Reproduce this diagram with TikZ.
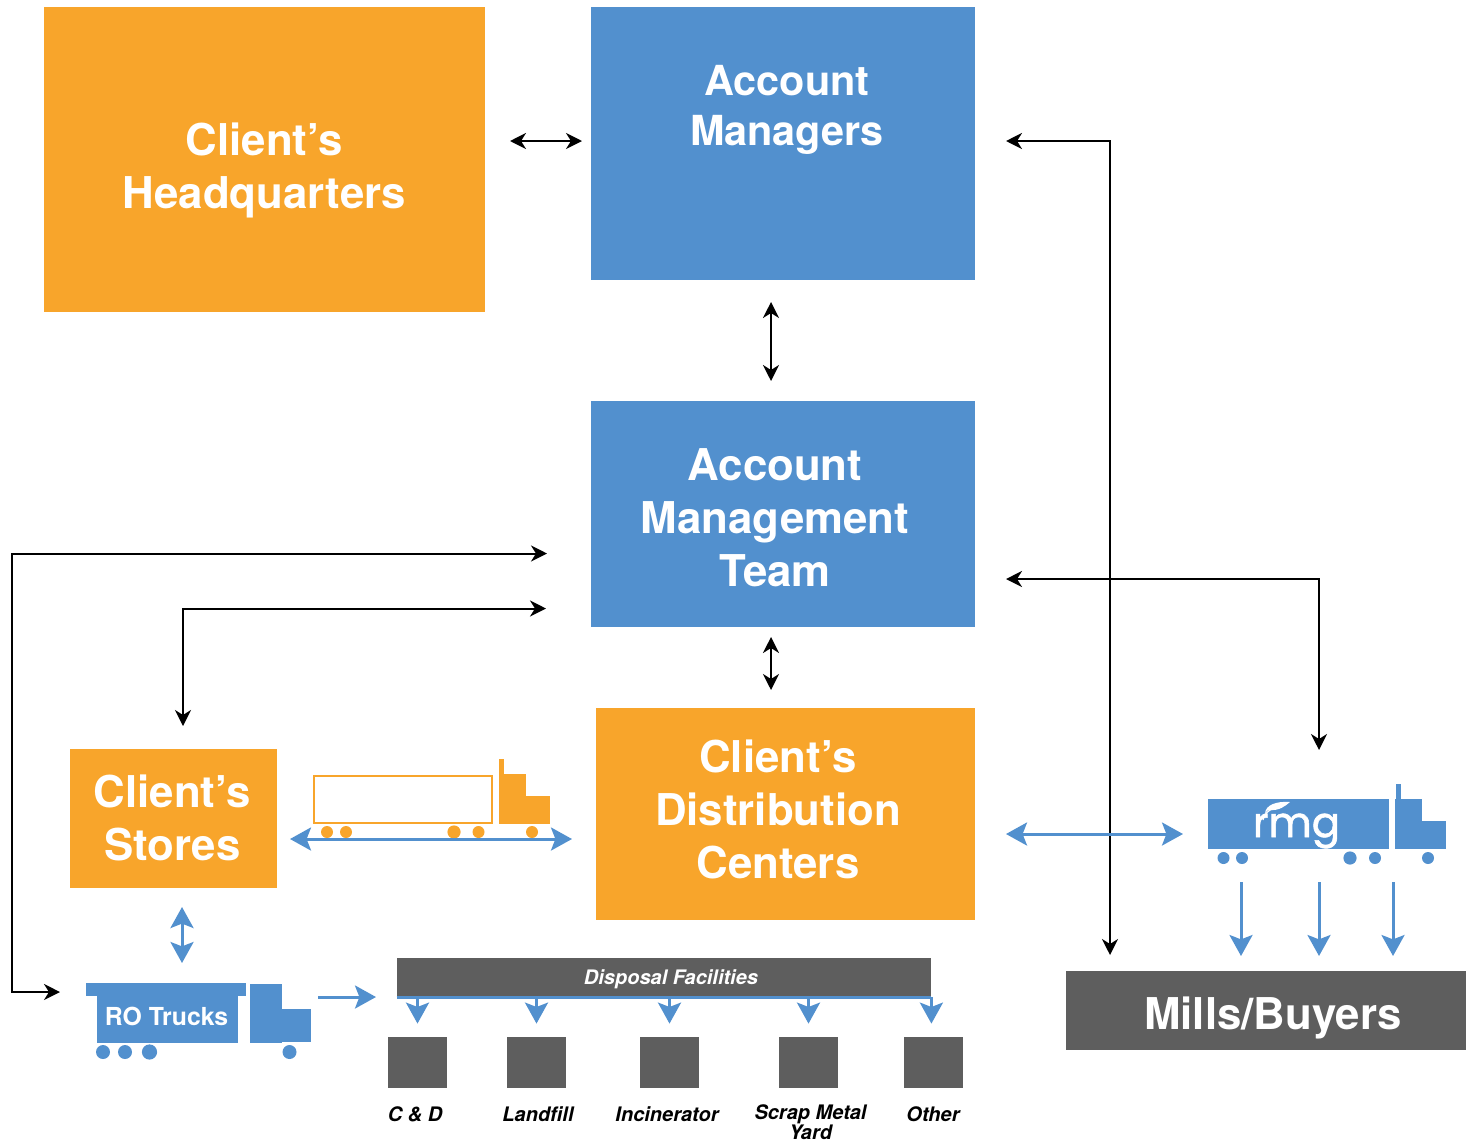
\documentclass[tikz,border=0pt]{standalone}
\usepackage{fontspec}
\setmainfont{TeX Gyre Heros}
\newfontfamily\logofont[FakeBold=1.4]{Poppins}
\usetikzlibrary{arrows.meta}
\definecolor{boxorange}{HTML}{F8A52B}
\definecolor{boxblue}{HTML}{5290CE}
\definecolor{boxgrey}{HTML}{5E5E5E}
\tikzset{
  orangebox/.style={fill=boxorange,inner sep=0pt},
  bluebox/.style={fill=boxblue,inner sep=0pt},
  greybox/.style={fill=boxgrey,inner sep=0pt},
  square/.style={fill=boxgrey,inner sep=0pt,minimum width=29.5pt,minimum height=25.5pt},
  bigtext/.style={text=white,align=center,font=\bfseries\fontsize{21.9}{26.5}\selectfont},
  smalltext/.style={text=black,align=center,inner sep=0pt,font=\bfseries\itshape\fontsize{10}{10}\selectfont},
  blackline/.style={draw=black,line width=1pt,{Stealth[length=8pt,width=8pt,inset=2.5pt]}-{Stealth[length=8pt,width=8pt,inset=2.5pt]}},
  blueline/.style={draw=boxblue,line width=1.5pt,{Stealth[length=10.5pt,width=11.5pt,inset=2.2pt]}-{Stealth[length=10.5pt,width=11.5pt,inset=2.2pt]}},
  bluedown/.style={draw=boxblue,line width=1.5pt,-{Stealth[length=10.5pt,width=11.5pt,inset=2.2pt]}}
}
\begin{document}
\begin{tikzpicture}[x=0.5pt,y=-0.5pt]
\useasboundingbox (0,0) rectangle (1466,1141);
\node [orangebox,minimum width=220.5pt,minimum height=152.5pt] (hq) at (264.5,159.5) {};
\node [bigtext] (hqtext) at (264.5,170) {Client’s\\Headquarters};
\node [bluebox,minimum width=192pt,minimum height=136.5pt] (am) at (783,143.5) {};
\node [bigtext,font=\bfseries\fontsize{20.7}{25}\selectfont] (amtext) at (787,110) {Account\\Managers};
\node [bluebox,minimum width=192pt,minimum height=113pt] (amt) at (783,514) {};
\node [bigtext] (amttext) at (775,517.5) {Account\\Management\\Team};
\node [orangebox,minimum width=189.5pt,minimum height=106pt] (dc) at (785.5,814) {};
\node [bigtext] (dctext) at (778,809) {Client’s\\Distribution\\Centers};
\node [orangebox,minimum width=103.5pt,minimum height=69.5pt] (stores) at (173.5,818.5) {};
\node [bigtext] (storestext) at (172.5,818) {Client’s\\Stores};
\node [greybox,minimum width=200pt,minimum height=39.5pt] (mills) at (1266,1010.5) {};
\node [bigtext] (millstext) at (1273,1018) {Mills/Buyers};
\node [greybox,minimum width=267pt,minimum height=19.5pt] (disposal) at (664,977.5) {};
\node [smalltext,text=white] (disposaltext) at (671,979) {Disposal Facilities};
\node [square] (cd) at (417.5,1062.5) {};
\node [square] (landfill) at (536.5,1062.5) {};
\node [square] (incinerator) at (669.5,1062.5) {};
\node [square] (scrap) at (808.5,1062.5) {};
\node [square] (other) at (933.5,1062.5) {};
\node [smalltext] (cdtext) at (415,1114) {C \& D};
\node [smalltext] (landfilltext) at (538,1114) {Landfill};
\node [smalltext] (incineratortext) at (667,1114) {Incinerator};
\node [smalltext] (scraptext) at (810.5,1122.5) {Scrap Metal\\[0pt]Yard};
\node [smalltext] (othertext) at (933,1114) {Other};

\draw [draw=boxorange,line width=1pt] (313.5,775.5) rectangle (492,823);
\fill [boxorange] (499,759) rectangle (504,774);
\fill [boxorange] (499,774) rectangle (526,824);
\fill [boxorange] (526,796) rectangle (550,824);
\fill [boxorange] (327,832) circle[radius=3pt];
\fill [boxorange] (346,832) circle[radius=3pt];
\fill [boxorange] (454,832) circle[radius=3.3pt];
\fill [boxorange] (478.5,832) circle[radius=3pt];
\fill [boxorange] (532,832) circle[radius=3pt];

\fill [boxblue] (1208,799) rectangle (1389,849);
\fill [boxblue] (1396,784) rectangle (1401,799);
\fill [boxblue] (1395,799) rectangle (1422,849);
\fill [boxblue] (1422,821) rectangle (1446,849);
\fill [boxblue] (1223.5,858) circle[radius=3pt];
\fill [boxblue] (1242,858) circle[radius=3pt];
\fill [boxblue] (1350,858) circle[radius=3.3pt];
\fill [boxblue] (1375,858) circle[radius=3pt];
\fill [boxblue] (1428,858) circle[radius=3pt];
\node [text=white,inner sep=0pt,font=\logofont\fontsize{21}{21}\selectfont] (rmg) at (1296.5,831) {rmg};
\fill [boxblue] (1254,800) rectangle (1292,809);
\fill [white] (1265,813) .. controls (1266,805) and (1276,801) .. (1290,802) .. controls (1285,806) and (1280,811) .. (1268,810) -- cycle;
\draw [white,line width=0.6pt] (1263,820) .. controls (1264,814) and (1268,811) .. (1272,809);

\fill [boxblue] (86,983) rectangle (246,996);
\fill [boxblue] (97,996) rectangle (238,1043);
\fill [boxblue] (250,984) rectangle (282,1043);
\fill [boxblue] (282,1009) rectangle (311,1042);
\fill [boxblue] (103,1052) circle[radius=3.5pt];
\fill [boxblue] (125,1052) circle[radius=3.5pt];
\fill [boxblue] (149.5,1052) circle[radius=3.8pt];
\fill [boxblue] (289.5,1052) circle[radius=3.5pt];
\node [text=white,inner sep=0pt,font=\bfseries\fontsize{12.4}{12.4}\selectfont] (rotext) at (166.5,1016) {RO Trucks};

\coordinate (hqport) at (510,141);
\coordinate (amleft) at (582,141);
\coordinate (amlow) at (771,302);
\coordinate (amttop) at (771,381);
\coordinate (amtlow) at (771,637);
\coordinate (dctop) at (771,690);
\coordinate (amright) at (1006,141);
\coordinate (millstop) at (1110,955);
\coordinate (amtright) at (1006,579);
\coordinate (rmgtop) at (1319,750);
\coordinate (amtfar) at (547,553.5);
\coordinate (rofar) at (60,992);
\coordinate (amtnear) at (546,608.5);
\coordinate (storestop) at (183,726);
\draw [blackline] (hqport) -- (amleft);
\draw [blackline] (amlow) -- (amttop);
\draw [blackline] (amtlow) -- (dctop);
\draw [blackline] (amright) -| (millstop);
\draw [blackline] (amtright) -| (rmgtop);
\draw [blackline] (amtfar) -- (12,553.5) -- (12,992) -- (rofar);
\draw [blackline] (amtnear) -| (storestop);

\coordinate (storesright) at (290,839);
\coordinate (dcleft) at (572,839);
\coordinate (dcright) at (1006,834);
\coordinate (rmgleft) at (1183,834);
\coordinate (storeslow) at (182,907);
\coordinate (rotop) at (182,963);
\coordinate (roright) at (318,997);
\coordinate (disposalleft) at (376,997);
\coordinate (rmgdowna) at (1241,882);
\coordinate (millsa) at (1241,956);
\coordinate (rmgdownb) at (1319,882);
\coordinate (millsb) at (1319,956);
\coordinate (rmgdownc) at (1393,882);
\coordinate (millsc) at (1393,956);
\draw [blueline] (storesright) -- (dcleft);
\draw [blueline] (dcright) -- (rmgleft);
\draw [blueline] (storeslow) -- (rotop);
\draw [bluedown] (roright) -- (disposalleft);
\draw [bluedown] (rmgdowna) -- (millsa);
\draw [bluedown] (rmgdownb) -- (millsb);
\draw [bluedown] (rmgdownc) -- (millsc);

\draw [draw=boxblue,line width=1.2pt] (disposal.south west) -- (disposal.south east);
\draw [bluedown,shorten >=6.5pt] (disposal.south -| cd.north) -- (cd.north);
\draw [bluedown,shorten >=6.5pt] (disposal.south -| landfill.north) -- (landfill.north);
\draw [bluedown,shorten >=6.5pt] (disposal.south -| incinerator.north) -- (incinerator.north);
\draw [bluedown,shorten >=6.5pt] (disposal.south -| scrap.north) -- (scrap.north);
\draw [bluedown,shorten >=6.5pt] (disposal.south east) -- (disposal.south east |- other.north);
\end{tikzpicture}
\end{document}
